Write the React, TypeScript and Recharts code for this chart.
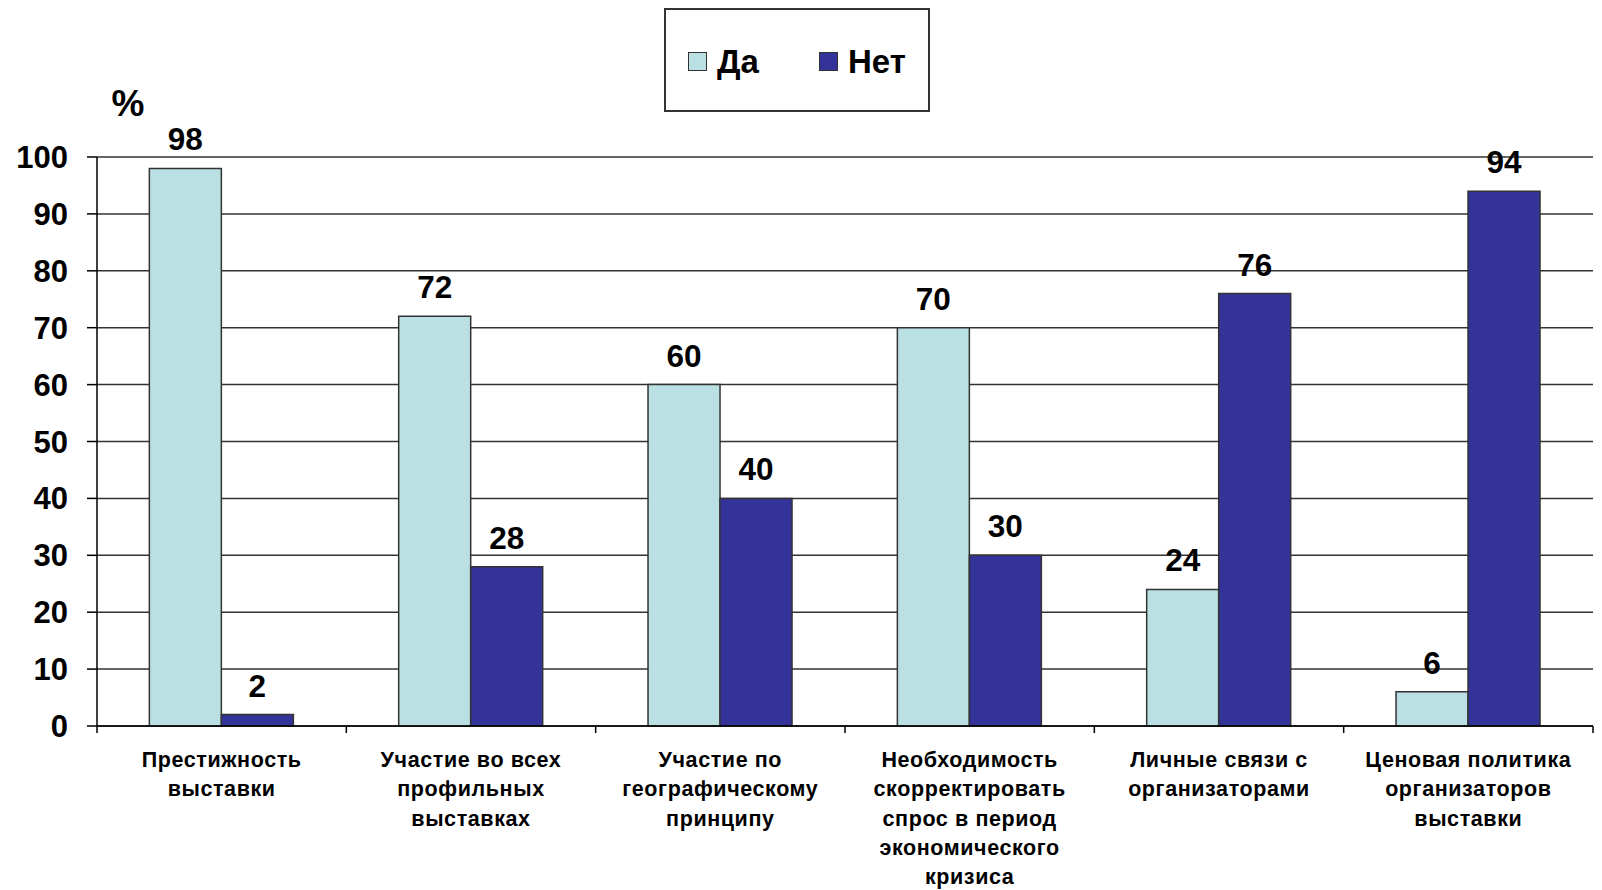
import { BarChart, Bar, XAxis, YAxis, CartesianGrid, Legend, LabelList } from "recharts";

const categories = [
  ["Престижность", "выставки"],
  ["Участие во всех", "профильных", "выставках"],
  ["Участие по", "географическому", "принципу"],
  ["Необходимость", "скорректировать", "спрос в период", "экономического", "кризиса"],
  ["Личные связи с", "организаторами"],
  ["Ценовая политика", "организаторов", "выставки"],
];
const yesValues = [98, 72, 60, 70, 24, 6];
const noValues = [2, 28, 40, 30, 76, 94];
const yTicks = [0, 10, 20, 30, 40, 50, 60, 70, 80, 90, 100];

const data = categories.map((lines, i) => ({
  name: lines.join(" "),
  lines,
  yes: yesValues[i],
  no: noValues[i],
}));

const FONT = "'Liberation Sans', Arial, sans-serif";
const YES_COLOR = "#BBE0E3";
const NO_COLOR = "#333399";

function CategoryTick(props: any) {
  const { x, y, payload, index } = props;
  const half = payload?.offset ?? 0;
  const lines: string[] = data[index]?.lines ?? [];
  return (
    <g>
      <line x1={x - half} y1={y} x2={x - half} y2={y + 7} stroke="#000" strokeWidth={1.5} />
      {index === data.length - 1 && (
        <line x1={x + half} y1={y} x2={x + half} y2={y + 7} stroke="#000" strokeWidth={1.5} />
      )}
      <text
        x={x}
        y={y + 41}
        textAnchor="middle"
        fontFamily={FONT}
        fontWeight="bold"
        fontSize={21.5}
        letterSpacing={0.6}
        fill="#000"
      >
        {lines.map((l, i) => (
          <tspan key={i} x={x} dy={i === 0 ? 0 : 29.3}>
            {l}
          </tspan>
        ))}
      </text>
    </g>
  );
}

function LegendBox() {
  const item = (color: string, text: string) => (
    <div style={{ display: "flex", alignItems: "center", gap: 10 }}>
      <div style={{ width: 17, height: 17, background: color, border: "1.5px solid #333" }} />
      <span style={{ fontFamily: FONT, fontWeight: "bold", fontSize: 33, color: "#000", lineHeight: 1 }}>{text}</span>
    </div>
  );
  return (
    <div
      style={{
        width: 266,
        height: 104,
        border: "2px solid #333",
        display: "flex",
        alignItems: "center",
        justifyContent: "center",
        gap: 60,
        paddingTop: 2,
        boxSizing: "border-box",
        background: "#fff",
      }}
    >
      {item(YES_COLOR, "Да")}
      {item(NO_COLOR, "Нет")}
    </div>
  );
}

function PercentLabel(props: any) {
  const vb = props.viewBox || {};
  const x = (vb.x ?? 0) + (vb.width ?? 0) + 31;
  const y = (vb.y ?? 0) - 41;
  return (
    <text x={x} y={y} textAnchor="middle" fontFamily={FONT} fontWeight="bold" fontSize={37} fill="#000">
      %
    </text>
  );
}

export default function App() {
  const labelStyle = { fontFamily: FONT, fontWeight: "bold", fontSize: 31.5, fill: "#000" };
  return (
    <div style={{ position: "absolute", left: 0, top: 0, width: 1602, height: 890, background: "#fff" }}>
      <BarChart
        width={1602}
        height={890}
        data={data}
        margin={{ top: 157, right: 9, bottom: 0, left: 0 }}
        barGap={0}
        barCategoryGap="21%"
      >
        <CartesianGrid vertical={false} stroke="#333" strokeWidth={1.5} />
        <XAxis
          dataKey="name"
          height={164}
          interval={0}
          axisLine={{ stroke: "#000", strokeWidth: 1.5 }}
          tickLine={false}
          tickSize={0}
          tickMargin={0}
          tick={<CategoryTick />}
        />
        <YAxis
          width={97}
          domain={[0, 100]}
          ticks={yTicks}
          interval={0}
          tickSize={10}
          tickMargin={19}
          axisLine={{ stroke: "#000", strokeWidth: 1.5 }}
          tickLine={{ stroke: "#000", strokeWidth: 1.5 }}
          tick={{ fontFamily: FONT, fontWeight: "bold", fontSize: 31, fill: "#000" }}
          label={<PercentLabel />}
        />
        <YAxis
          yAxisId="right"
          orientation="right"
          width={0}
          domain={[0, 100]}
          tick={false}
          tickLine={false}
          axisLine={{ stroke: "#333", strokeWidth: 1.5 }}
        />
        <Legend
          layout="horizontal"
          verticalAlign="middle"
          align="center"
          content={<LegendBox />}
          wrapperStyle={{ position: "absolute", left: 664, top: 8, width: "auto" }}
        />
        <Bar dataKey="yes" name="Да" fill={YES_COLOR} stroke="#333" strokeWidth={1.5} isAnimationActive={false}>
          <LabelList dataKey="yes" position="top" offset={18} style={labelStyle} />
        </Bar>
        <Bar dataKey="no" name="Нет" fill={NO_COLOR} stroke="#333" strokeWidth={1.5} isAnimationActive={false}>
          <LabelList dataKey="no" position="top" offset={18} style={labelStyle} />
        </Bar>
      </BarChart>
    </div>
  );
}
